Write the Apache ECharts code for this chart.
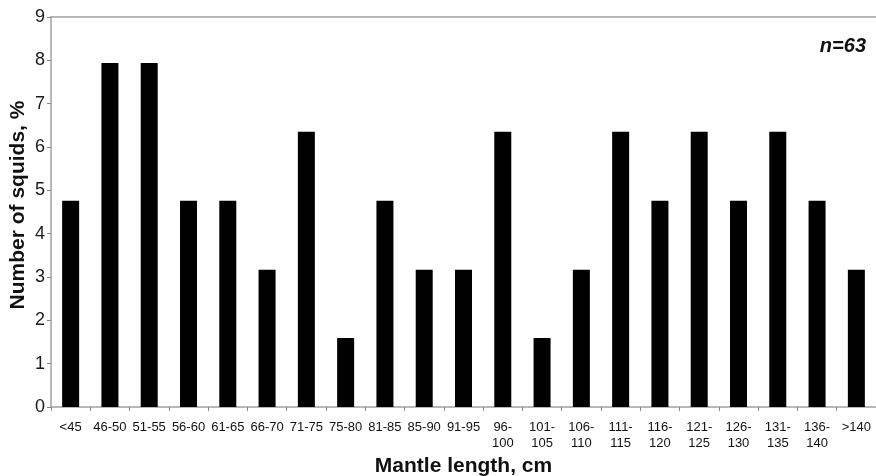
<!DOCTYPE html>
<html>
<head>
<meta charset="utf-8">
<script src="https://cdn.jsdelivr.net/npm/echarts@6/dist/echarts.min.js"></script>
<style>
  html, body { margin: 0; padding: 0; background: #fff; }
  #chart { width: 876px; height: 476px; }
</style>
</head>
<body>
<div id="chart"></div>
<script>
// mantle length classes and share of squids (%)
const categories = ['<45', '46-50', '51-55', '56-60', '61-65', '66-70', '71-75', '75-80', '81-85', '85-90',
  '91-95', '96-\n100', '101-\n105', '106-\n110', '111-\n115', '116-\n120', '121-\n125', '126-\n130',
  '131-\n135', '136-\n140', '>140'];
const shares = [4.76, 7.94, 7.94, 4.76, 4.76, 3.17, 6.35, 1.59, 4.76, 3.17,
  3.17, 6.35, 1.59, 3.17, 6.35, 4.76, 6.35, 4.76, 6.35, 4.76, 3.17];
const yTicks = [0, 1, 2, 3, 4, 5, 6, 7, 8, 9];

const chart = echarts.init(document.getElementById('chart'));
const axisGray = '#a0a0a0';
const font = 'Liberation Sans, Arial, sans-serif';

chart.setOption({
  animation: false,
  grid: { left: 51, right: 0, top: 17, bottom: 69, outerBoundsMode: 'none', containLabel: false },
  xAxis: [
    {
      type: 'category',
      data: categories,
      axisLine: { lineStyle: { color: axisGray, width: 1.5 } },
      axisTick: { show: true, length: 4, lineStyle: { color: '#888' } },
      axisLabel: { color: '#111', fontSize: 13, fontFamily: font, margin: 12, interval: 0, lineHeight: 16 },
      name: 'Mantle length, cm',
      nameLocation: 'middle',
      nameGap: 46,
      nameTextStyle: { color: '#111', fontSize: 21, fontWeight: 'bold', fontFamily: font }
    },
    {
      type: 'category',
      position: 'top',
      data: categories,
      axisLine: { lineStyle: { color: axisGray, width: 1.5 } },
      axisTick: { show: false },
      axisLabel: { show: false }
    }
  ],
  yAxis: {
    type: 'value',
    min: yTicks[0],
    max: yTicks[yTicks.length - 1],
    interval: 1,
    splitLine: { show: false },
    axisLine: { show: true, lineStyle: { color: axisGray, width: 1.5 } },
    axisTick: { show: true, length: 4, lineStyle: { color: '#888' } },
    axisLabel: { color: '#1a1a1a', fontSize: 18, fontFamily: font, margin: 6 }
  },
  series: [{
    type: 'bar',
    data: shares,
    barWidth: 17,
    itemStyle: { color: '#000' }
  }],
  graphic: [
    {
      type: 'text',
      x: 18,
      y: 205,
      rotation: Math.PI / 2,
      style: {
        text: 'Number of squids, %', fontSize: 21, fontWeight: 'bold', fontFamily: font, fill: '#111',
        align: 'center', verticalAlign: 'middle'
      }
    },
    {
      type: 'text',
      right: 10,
      top: 36,
      style: { text: 'n=63', fontSize: 20, fontWeight: 'bold', fontStyle: 'italic', fontFamily: font, fill: '#111' }
    }
  ]
});
</script>
</body>
</html>
